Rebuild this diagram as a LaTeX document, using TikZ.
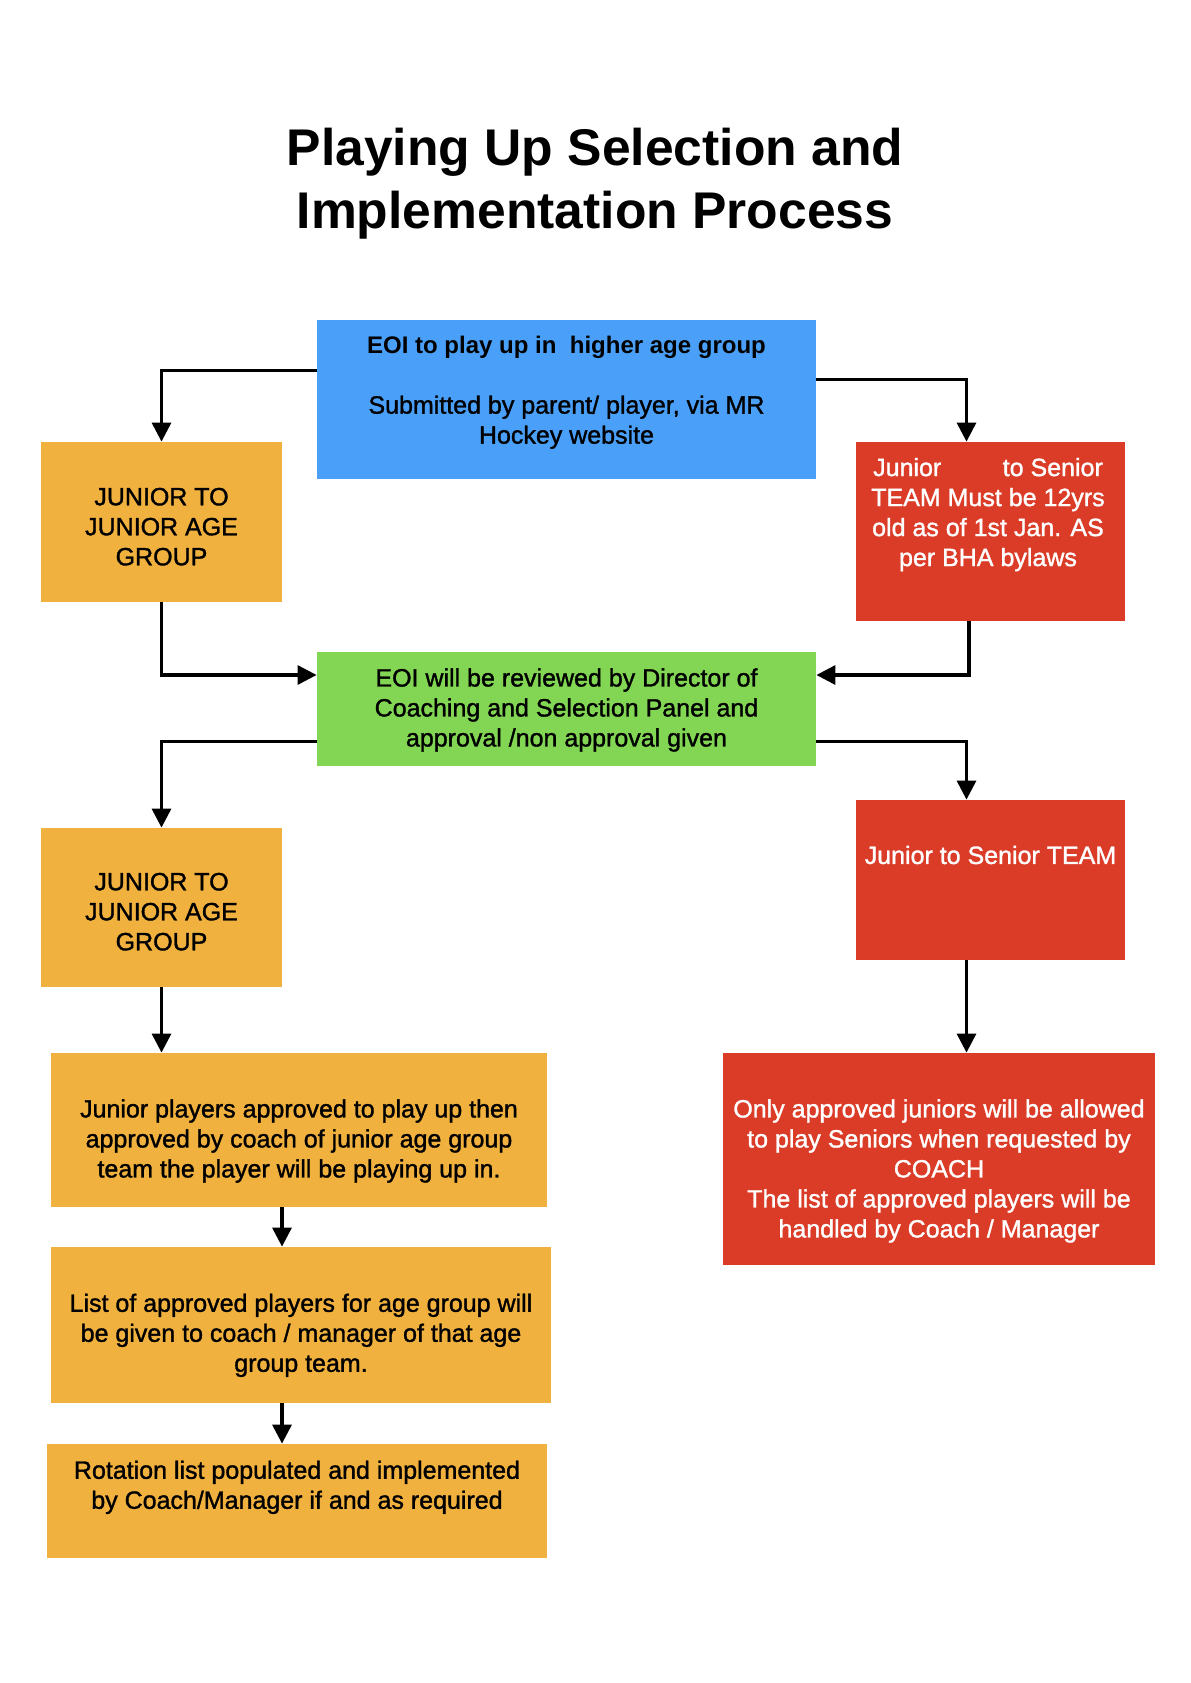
\documentclass[tikz,border=0pt]{standalone}
\usepackage{fontspec}
\setmainfont{Liberation Sans}
\newfontfamily\medfont{Liberation Sans}[FakeBold=1.3]
\usetikzlibrary{arrows.meta}

\definecolor{eoiblue}{RGB}{74,160,248}
\definecolor{jrorange}{RGB}{241,177,62}
\definecolor{snred}{RGB}{219,60,39}
\definecolor{revgreen}{RGB}{130,214,84}

\begin{document}
\begin{tikzpicture}[
  x=0.5pt, y=-0.5pt,
  box/.style={rectangle, inner sep=0pt, draw=none},
  txt/.style={align=center, inner sep=0pt, font=\medfont\fontsize{12.5}{15}\selectfont},
  arr/.style={-{Triangle[length=9.5pt,width=9.5pt]}, line width=1.6pt}
]
\path[use as bounding box] (0,0) rectangle (1190,1683);

\node[font=\bfseries\fontsize{25.8}{31.5}\selectfont, align=center, inner sep=0pt] (title) at (595, 183.6)
  {Playing Up Selection and\\Implementation Process};

\node[box, fill=eoiblue, minimum width=249.5pt, minimum height=79.5pt] (eoi) at (566.5, 399.5) {};
\node[txt] (eoi-t) at (566.5, 392.5)
  {{\normalfont\bfseries\fontsize{12}{15}\selectfont EOI to play up in\ \ higher age group}\\[15pt]
   Submitted by parent/ player, via MR\\Hockey website};

\node[box, fill=jrorange, minimum width=120.5pt, minimum height=80pt] (jj1) at (161.5, 522) {};
\node[txt] (jj1-t) at (161.5, 526.7) {JUNIOR TO\\JUNIOR AGE\\GROUP};

\node[box, fill=snred, minimum width=134.5pt, minimum height=89.5pt] (js1) at (990.5, 531.5) {};
\node[txt, text=white] (js1-t) at (988, 514.6)
  {Junior\hspace{30.75pt}to Senior\\TEAM Must be 12yrs\\old as of 1st Jan. AS\\per BHA bylaws};

\node[box, fill=revgreen, minimum width=249.5pt, minimum height=57pt] (rev) at (566.5, 709) {};
\node[txt] (rev-t) at (566.5, 710)
  {EOI will be reviewed by Director of\\Coaching and Selection Panel and\\approval /non approval given};

\node[box, fill=jrorange, minimum width=120.5pt, minimum height=79.5pt] (jj2) at (161.5, 907.5) {};
\node[txt] (jj2-t) at (161.5, 911.7) {JUNIOR TO\\JUNIOR AGE\\GROUP};

\node[box, fill=snred, minimum width=134.5pt, minimum height=80pt] (js2) at (990.5, 880) {};
\node[txt, text=white] (js2-t) at (990.5, 855) {Junior to Senior TEAM};

\node[box, fill=jrorange, minimum width=248pt, minimum height=77pt] (app) at (299, 1130) {};
\node[txt] (app-t) at (299, 1141)
  {Junior players approved to play up then\\approved by coach of junior age group\\team the player will be playing up in.};

\node[box, fill=snred, minimum width=216pt, minimum height=106pt] (sen) at (939, 1159) {};
\node[txt, text=white] (sen-t) at (939, 1171)
  {Only approved juniors will be allowed\\to play Seniors when requested by\\COACH\\The list of approved players will be\\handled by Coach / Manager};

\node[box, fill=jrorange, minimum width=250pt, minimum height=78pt] (lst) at (301, 1325) {};
\node[txt] (lst-t) at (301, 1335.3)
  {List of approved players for age group will\\be given to coach / manager of that age\\group team.};

\node[box, fill=jrorange, minimum width=250pt, minimum height=57pt] (rot) at (297, 1501) {};
\node[txt] (rot-t) at (297, 1487.3)
  {Rotation list populated and implemented\\by Coach/Manager if and as required};

\draw[arr] ([yshift=14.5pt]eoi.west) -| (jj1.north);
\draw[arr] ([yshift=10pt]eoi.east) -| ([xshift=-12pt]js1.north);
\draw[arr] (jj1.south) |- ([yshift=17pt]rev.west);
\draw[arr] ([xshift=-10.75pt]js1.south) |- ([yshift=17pt]rev.east);
\draw[arr] ([yshift=-16.35pt]rev.west) -| (jj2.north);
\draw[arr] ([yshift=-16.35pt]rev.east) -| ([xshift=-12pt]js2.north);
\draw[arr] (jj2.south) -- (jj2.south |- app.north);
\draw[arr] ([xshift=-12pt]js2.south) -- ([xshift=-12pt]js2.south |- sen.north);
\draw[arr] ([xshift=-8.5pt]app.south) -- ([xshift=-8.5pt]app.south |- lst.north);
\draw[arr] ([xshift=-9.5pt]lst.south) -- ([xshift=-9.5pt]lst.south |- rot.north);
\end{tikzpicture}
\end{document}
